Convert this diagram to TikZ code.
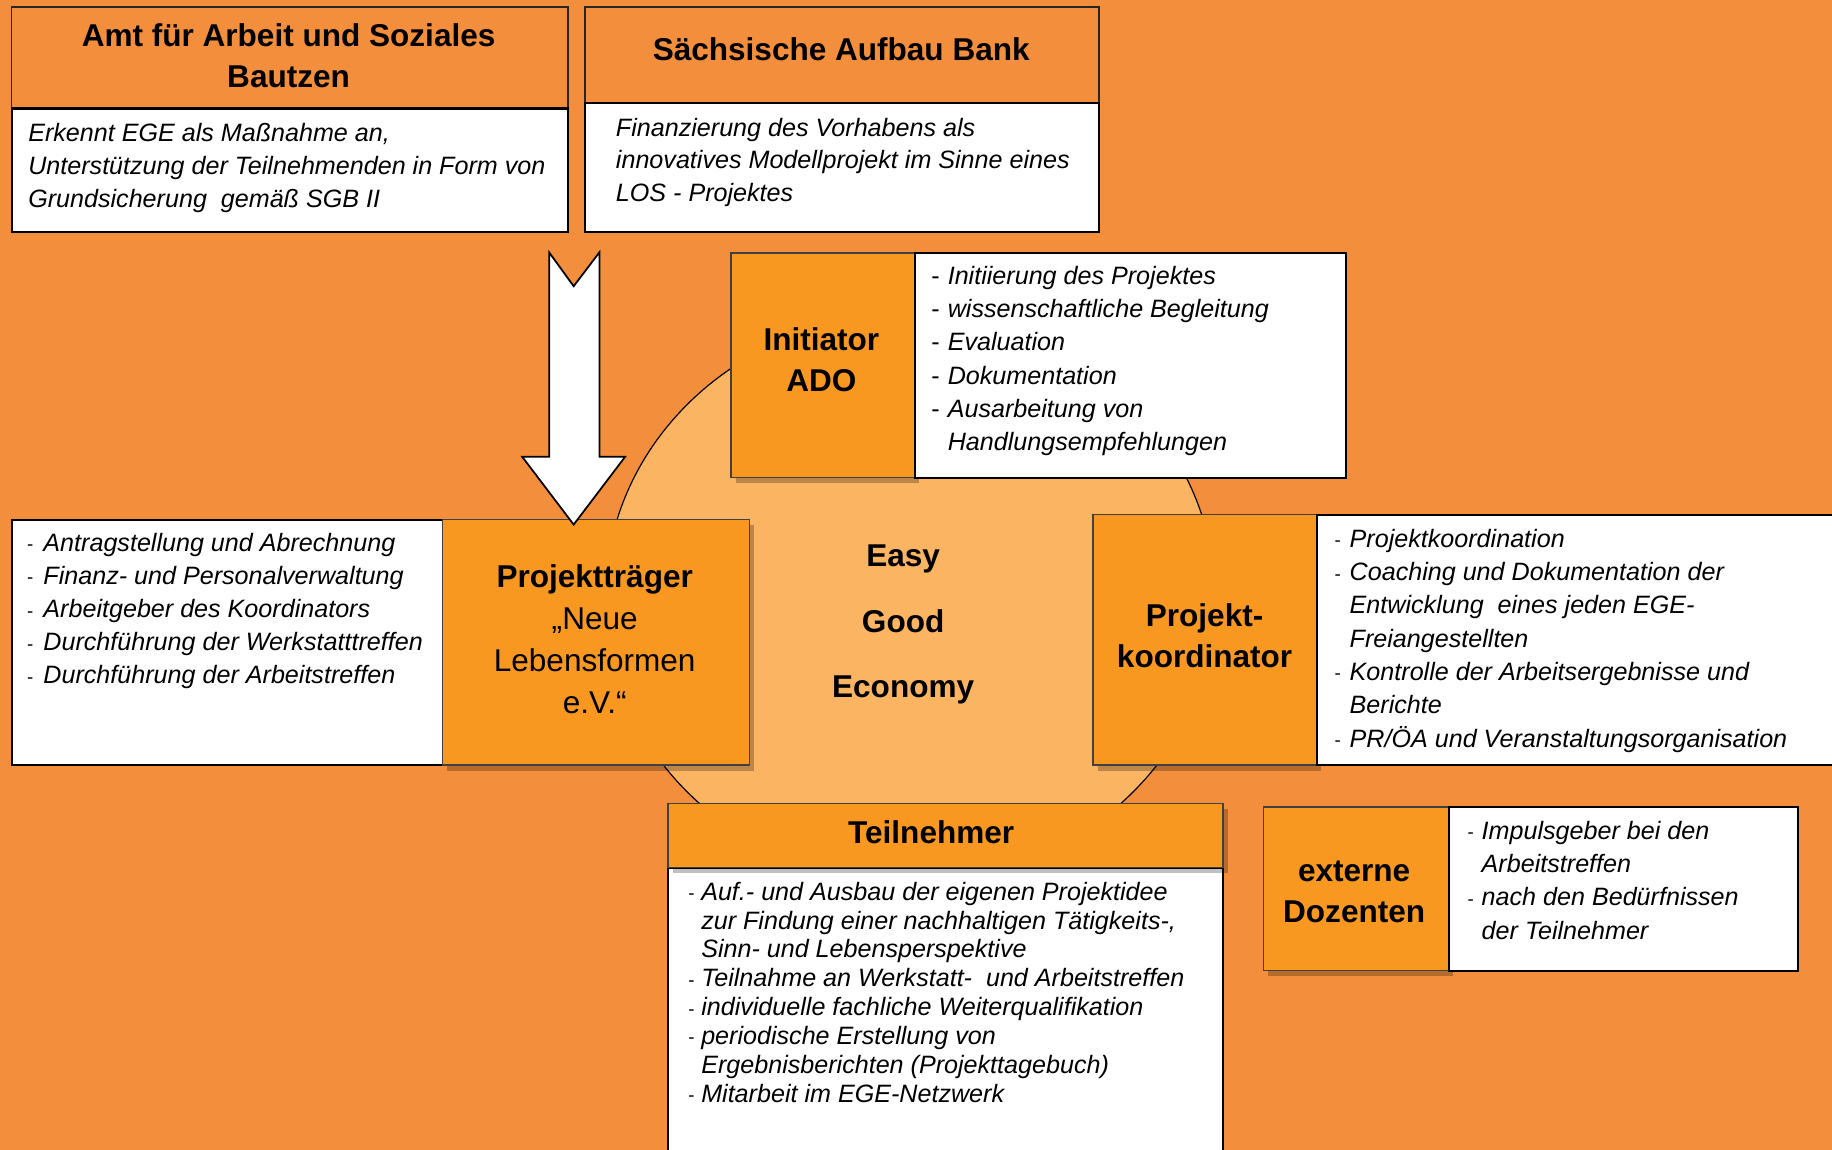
\documentclass[tikz,border=0pt]{standalone}
\usepackage{fontspec}
\setmainfont{Liberation Sans}
\usetikzlibrary{shadows,shapes.geometric}
\definecolor{bgor}{RGB}{243,142,60}
\definecolor{boxor}{RGB}{248,152,33}
\definecolor{circor}{RGB}{251,180,98}
\newcommand{\hdfont}{\fontsize{27}{35}\selectfont\bfseries}
\newcommand{\lstbox}[2]{\parbox[t]{640pt}{\fontsize{21.5}{#1}\selectfont\itshape\raggedright #2}}
\newcommand{\bigdash}{\makebox[14pt][l]{\upshape-}}
\newcommand{\smdash}[1]{\makebox[#1][l]{\raisebox{0.5pt}{\fontsize{16}{16}\selectfont\upshape-}}}
\begin{document}
\begin{tikzpicture}[x=1pt,y=-1pt,
  hdrbox/.style={draw=black!85, line width=1.6pt, fill=bgor, inner sep=0pt, anchor=north west, align=center},
  orbox/.style={draw=black!75, line width=1.2pt, fill=boxor, inner sep=0pt, anchor=north west, align=center,
     drop shadow={shadow xshift=4pt, shadow yshift=-5pt, opacity=0.25, fill=black}},
  whbox/.style={draw=black, line width=1.8pt, fill=white, inner sep=0pt, anchor=north west},
  lst/.style={inner sep=0pt, anchor=base west},
  hdtext/.style={inner sep=0pt, align=center, font=\hdfont}
]
\useasboundingbox (0,0) rectangle (1568,984);
\clip (0,0) rectangle (1568,984);
\fill[bgor] (0,0) rectangle (1568,984);

% central oval
\node[ellipse, draw=black, line width=1pt, fill=circor, minimum width=522pt, minimum height=486pt, inner sep=0pt] (circ) at (779,512) {};

% Amt fuer Arbeit und Soziales
\node[hdrbox, minimum width=476pt, minimum height=87pt] (amtH) at (9,5) {};
\node[hdtext] (amtT1) at (247,48) {Amt für Arbeit und Soziales\\Bautzen};
\node[whbox, minimum width=476pt, minimum height=106pt] (amtB) at (9,92) {};
\node[lst] (amtT) at (24,121.5) {\lstbox{28}{Erkennt EGE als Maßnahme an,\\
  Unterstützung der Teilnehmenden in Form von\\
  Grundsicherung~ gemäß SGB II}};

% Saechsische Aufbau Bank
\node[hdrbox, minimum width=440pt, minimum height=82pt] (sabH) at (500,5) {};
\node[hdtext] (sabT1) at (720,42) {Sächsische Aufbau Bank};
\node[whbox, minimum width=440pt, minimum height=111pt] (sabB) at (500,87) {};
\node[lst] (sabT) at (527,116.5) {\lstbox{28}{Finanzierung des Vorhabens als\\
  innovatives Modellprojekt im Sinne eines\\
  LOS - Projektes}};

% Initiator ADO
\node[orbox, minimum width=157pt, minimum height=192pt] (adoO) at (625,216) {};
\node[hdtext] (adoT) at (703,308) {Initiator\\ADO};
\node[whbox, minimum width=369pt, minimum height=192pt] (adoW) at (782,216) {};
\node[lst] (adoL) at (797,243.5) {\lstbox{28.4}{\bigdash Initiierung des Projektes\\
  \bigdash wissenschaftliche Begleitung\\
  \bigdash Evaluation\\
  \bigdash Dokumentation\\
  \bigdash Ausarbeitung von\\
  \hspace*{14pt}Handlungsempfehlungen}};

% Projekttraeger
\node[whbox, minimum width=369pt, minimum height=210pt] (ptrW) at (9,444) {};
\node[orbox, minimum width=263pt, minimum height=210pt] (ptrO) at (378,444) {};
\node[inner sep=0pt, align=center, font=\fontsize{27}{36}\selectfont] (ptrT) at (509,547)
  {\textbf{Projektträger}\\„Neue\\Lebensformen\\e.V.“};
\node[lst] (ptrL) at (23,472) {\lstbox{28.3}{\smdash{14pt}Antragstellung und Abrechnung\\
  \smdash{14pt}Finanz- und Personalverwaltung\\
  \smdash{14pt}Arbeitgeber des Koordinators\\
  \smdash{14pt}Durchführung der Werkstatttreffen\\
  \smdash{14pt}Durchführung der Arbeitstreffen}};

% Easy Good Economy
\node[inner sep=0pt, align=center, font=\fontsize{27}{56}\selectfont\bfseries] (ege) at (773,534.5)
  {Easy\\Good\\Economy};

% Projektkoordinator
\node[orbox, minimum width=191pt, minimum height=214pt] (pkO) at (935,440) {};
\node[hdtext] (pkT) at (1031,544) {Projekt-\\koordinator};
\node[whbox, minimum width=470pt, minimum height=214pt] (pkW) at (1126,440) {};
\node[lst] (pkL) at (1142,468.5) {\lstbox{28.5}{\smdash{13pt}Projektkoordination\\
  \smdash{13pt}Coaching und Dokumentation der\\
  \hspace*{13pt}Entwicklung~ eines jeden EGE-\\
  \hspace*{13pt}Freiangestellten\\
  \smdash{13pt}Kontrolle der Arbeitsergebnisse und\\
  \hspace*{13pt}Berichte\\
  \smdash{13pt}PR/ÖA und Veranstaltungsorganisation}};

% Teilnehmer
\node[whbox, minimum width=475pt, minimum height=280pt] (tnB) at (571,742) {};
\node[orbox, minimum width=475pt, minimum height=55pt] (tnH) at (571,687) {};
\node[hdtext] (tnT) at (797,712) {Teilnehmer};
\node[lst] (tnL) at (589,770.5) {\lstbox{24.7}{\smdash{11pt}Auf.- und Ausbau der eigenen Projektidee\\
  \hspace*{11pt}zur Findung einer nachhaltigen Tätigkeits-,\\
  \hspace*{11pt}Sinn- und Lebensperspektive\\
  \smdash{11pt}Teilnahme an Werkstatt-~ und Arbeitstreffen\\
  \smdash{11pt}individuelle fachliche Weiterqualifikation\\
  \smdash{11pt}periodische Erstellung von\\
  \hspace*{11pt}Ergebnisberichten (Projekttagebuch)\\
  \smdash{11pt}Mitarbeit im EGE-Netzwerk}};

% externe Dozenten
\node[orbox, minimum width=158pt, minimum height=140pt] (dzO) at (1081,690) {};
\node[hdtext] (dzT) at (1159,763) {externe\\Dozenten};
\node[whbox, minimum width=299pt, minimum height=140pt] (dzW) at (1239,690) {};
\node[lst] (dzL) at (1256,718.5) {\lstbox{28.4}{\smdash{12pt}Impulsgeber bei den\\
  \hspace*{12pt}Arbeitstreffen\\
  \smdash{12pt}nach den Bedürfnissen\\
  \hspace*{12pt}der Teilnehmer}};

% block arrow from Amt towards Projekttraeger
\coordinate (arrtip) at (491,449);
\draw[fill=white, line width=1.5pt, line join=miter]
  (470,216) -- (491,245) -- (513,216) -- (513,391) -- (535,391) -- (arrtip)
  -- (447,391) -- (470,391) -- cycle;
\end{tikzpicture}
\end{document}
